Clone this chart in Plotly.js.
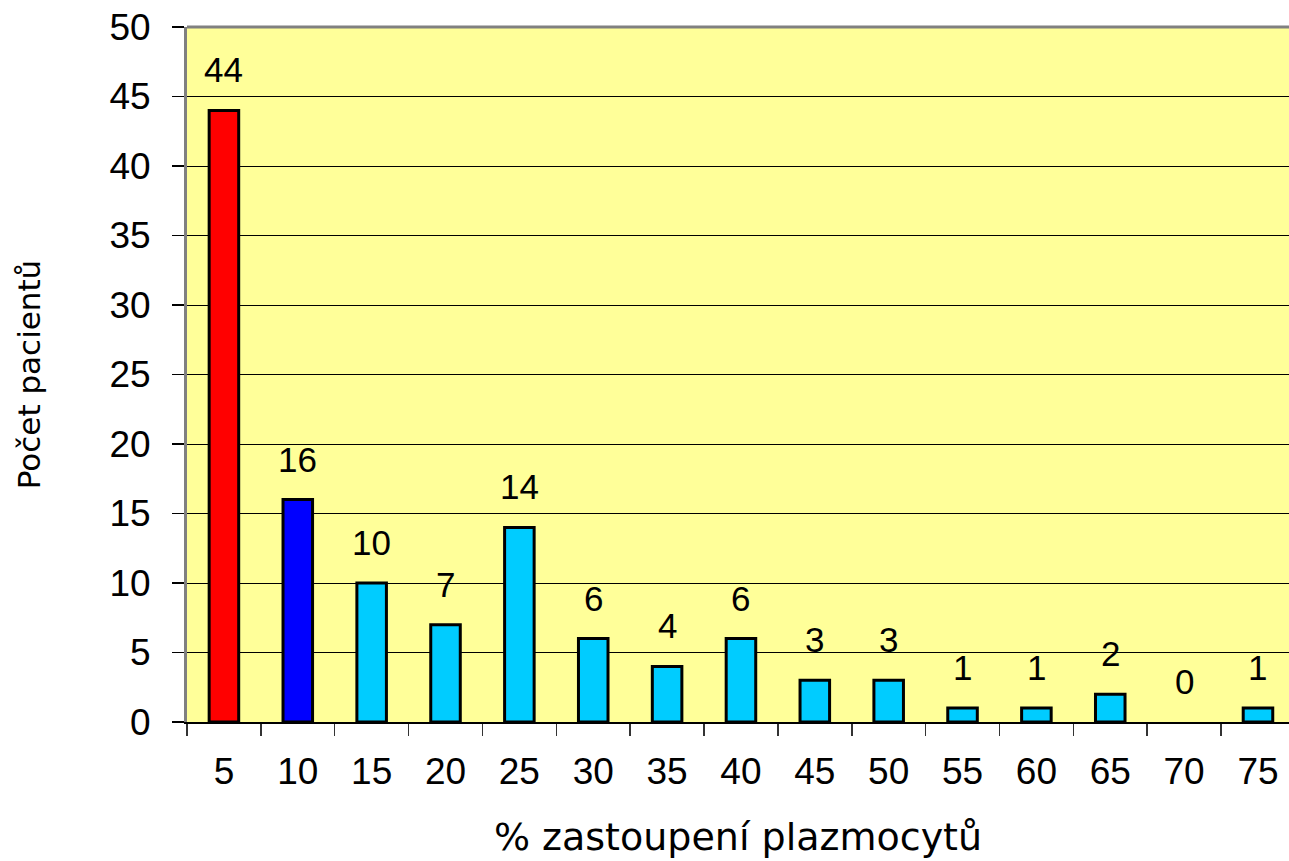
<!DOCTYPE html>
<html>
<head>
<meta charset="utf-8">
<script src="https://cdn.plot.ly/plotly-3.0.1.min.js"></script>
<style>html,body{margin:0;padding:0;background:#fff;}#chart{width:1289px;height:861px;}</style>
</head>
<body>
<div id="chart"></div>
<script>
const categories = ["5","10","15","20","25","30","35","40","45","50","55","60","65","70","75"];
const patientCounts = [44,16,10,7,14,6,4,6,3,3,1,1,2,0,1];
const barColors = ["#FF0000","#0000FF","#00CCFF","#00CCFF","#00CCFF","#00CCFF","#00CCFF","#00CCFF","#00CCFF","#00CCFF","#00CCFF","#00CCFF","#00CCFF","#00CCFF","#00CCFF"];
const yTickValues = [0,5,10,15,20,25,30,35,40,45,50];
const xTitle = "% zastoupení plazmocytů";
const yTitle = "Počet pacientů";

const trace = {
  type: "bar",
  x: categories,
  y: patientCounts,
  width: 0.4,
  marker: {color: barColors, line: {color: "#000", width: patientCounts.map(v => v === 0 ? 0 : 3)}},
  hoverinfo: "x+y"
};

const annotations = categories.map((c, i) => ({
  x: i, y: patientCounts[i], xref: "x", yref: "y",
  text: String(patientCounts[i]), showarrow: false,
  yanchor: "bottom", yshift: 19,
  font: {family: "Liberation Sans, Arial, sans-serif", size: 35, color: "#000"}
}));

const layout = {
  width: 1289, height: 861,
  margin: {l: 187, r: 0, t: 27, b: 139},
  paper_bgcolor: "#fff",
  plot_bgcolor: "#FFFF99",
  showlegend: false,
  bargap: 0.6,
  xaxis: {
    type: "category",
    range: [-0.5, 14.42],
    tickson: "boundaries",
    ticks: "outside", ticklen: 12, tickwidth: 1.5, tickcolor: "#333",
    showline: true, linecolor: "#000", linewidth: 1.5,
    showgrid: false,
    ticklabelstandoff: 16,
    tickfont: {family: "Liberation Sans, Arial, sans-serif", size: 37, color: "#000"},
    title: {text: xTitle, standoff: 32, font: {family: "DejaVu Sans, sans-serif", size: 38, color: "#000"}}
  },
  yaxis: {
    range: [0, 50],
    tickvals: yTickValues,
    ticks: "outside", ticklen: 12, tickwidth: 1.5, tickcolor: "#000",
    showline: true, linecolor: "#808080", linewidth: 3,
    showgrid: true, gridcolor: "#000", gridwidth: 1,
    ticklabelstandoff: 14,
    tickfont: {family: "Liberation Sans, Arial, sans-serif", size: 37, color: "#000"},
    title: {text: yTitle, standoff: 60, font: {family: "DejaVu Sans, sans-serif", size: 31, color: "#000"}}
  },
  shapes: [
    {type: "line", xref: "paper", yref: "paper", x0: 0, x1: 1, y0: 1, y1: 1, line: {color: "#808080", width: 3}}
  ],
  annotations: annotations
};

Plotly.newPlot("chart", [trace], layout, {displayModeBar: false, staticPlot: true});
</script>
</body>
</html>
